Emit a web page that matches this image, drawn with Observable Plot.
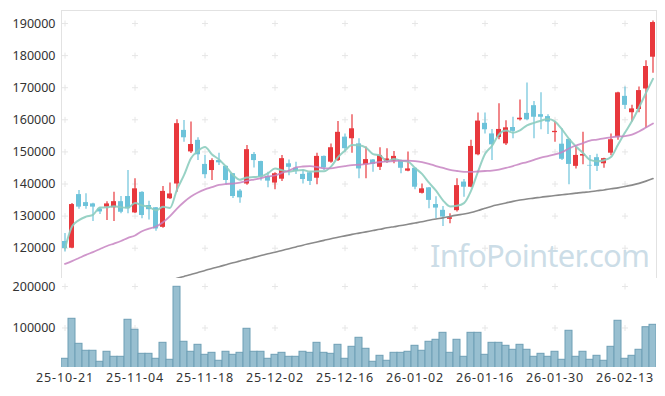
<!DOCTYPE html>
<html><head><meta charset="utf-8">
<script src="https://cdn.jsdelivr.net/npm/d3@7"></script>
<script src="https://cdn.jsdelivr.net/npm/@observablehq/plot@0.6"></script>
<style>
html,body{margin:0;padding:0;background:#fff;}
#wrap{position:relative;width:665px;height:396px;overflow:hidden;}
#wrap svg{display:block;}
#wm{position:absolute;left:425px;top:236px;pointer-events:none;overflow:visible;}
</style></head>
<body><div id="wrap"></div>
<script>
const dates = ["25-10-21","25-10-22","25-10-23","25-10-24","25-10-27","25-10-28","25-10-29","25-10-30","25-10-31","25-11-03",
"25-11-04","25-11-05","25-11-06","25-11-07","25-11-10","25-11-11","25-11-12","25-11-13","25-11-14","25-11-17",
"25-11-18","25-11-19","25-11-20","25-11-21","25-11-24","25-11-25","25-11-26","25-11-27","25-11-28","25-12-01",
"25-12-02","25-12-03","25-12-04","25-12-05","25-12-08","25-12-09","25-12-10","25-12-11","25-12-12","25-12-15",
"25-12-16","25-12-17","25-12-18","25-12-19","25-12-22","25-12-23","25-12-24","25-12-26","25-12-29","25-12-30",
"26-01-02","26-01-05","26-01-06","26-01-07","26-01-08","26-01-09","26-01-12","26-01-13","26-01-14","26-01-15",
"26-01-16","26-01-19","26-01-20","26-01-21","26-01-22","26-01-23","26-01-26","26-01-27","26-01-28","26-01-29",
"26-01-30","26-02-02","26-02-03","26-02-04","26-02-05","26-02-06","26-02-09","26-02-10","26-02-11","26-02-12",
"26-02-13","26-02-19","26-02-20","26-02-23","26-02-24"];

const open = [122100,120000,136700,134200,133800,132200,132800,132600,134500,136100,
131000,137400,133300,132600,126500,135400,140000,156700,150000,153600,
146100,144200,147300,145500,143200,137800,140000,149200,147000,142300,
140300,141500,146300,144900,143000,143500,141800,148600,146800,147300,
154600,154100,152500,146000,147500,145200,146800,147100,147300,144000,
144900,137100,138800,133600,131800,129000,131700,140600,139000,149100,
158900,155600,154500,152500,157600,160000,162000,164400,161600,161000,
156000,152400,153900,145500,148700,145800,148200,146300,149600,154600,
167300,162200,163200,169600,179500];
const high = [124600,133900,138000,137000,134000,132600,134500,137400,136100,144200,
141600,137600,134600,132700,139200,140300,160000,159800,159300,154400,
148900,147900,149600,145600,143300,138300,152000,149800,147100,143700,
143500,148900,147500,146800,144400,143600,149600,148700,152500,159500,
155600,161600,154100,151500,147600,151300,151000,150100,147400,150000,
145000,140000,138900,136000,133000,130700,141600,141400,153600,162100,
162100,157000,165000,159700,160800,166200,171500,165700,168400,161600,
159300,157200,154000,151500,156100,148900,149300,148000,155600,168600,
170200,164500,170200,178400,190800];
const low = [118800,119800,132100,132100,128300,130500,128600,128300,130700,130700,
130800,129200,128800,125300,126200,135200,137400,153000,149500,147300,
141600,141100,145800,139800,135500,134000,139600,145000,140900,138800,
138200,140800,142600,143000,140000,139500,139800,144200,146500,147000,
150000,149600,141600,141600,143700,144200,146500,146300,143200,143800,
138200,136900,132300,129200,126800,127600,131300,135900,138800,148800,
155600,147300,153800,152000,154100,159600,159700,154100,156900,155400,
153000,147300,139800,144700,146000,138200,143900,144900,148800,153600,
163200,159300,162200,157400,174500];
const close = [119900,133600,132800,133000,132800,131300,133800,134500,131200,132300,
138500,130200,132000,126000,137700,136900,158800,154400,152300,149100,
142900,147300,146600,141100,136100,135700,150700,147300,142100,140900,
143200,147900,145200,144000,141400,140800,148600,145000,151300,156100,
151000,157200,144700,147600,146100,148900,147800,148600,144900,144700,
139000,138500,134900,132500,129700,129500,139500,139000,151700,159600,
156900,152200,157000,157500,156400,160500,160000,160800,160800,159300,
156400,147700,146100,148900,149200,145600,145500,147900,153800,168400,
164500,163400,169100,176600,190300];
const volume = [25800,122200,61900,45100,45100,18600,42700,30600,30600,119800,
95700,37800,37800,25800,64300,23400,199300,66800,42700,59500,
35400,40200,21000,42700,35400,40200,98100,42700,42700,25800,
35400,40200,30600,30600,42700,40200,64300,40200,37800,59500,
25800,54700,76400,49900,18600,33000,21000,40200,40200,42700,
57100,45100,66800,71600,88400,40200,71600,30600,88400,88400,
35400,64300,64300,57100,47500,59500,47500,30600,37800,30600,
42700,23400,93300,30600,42700,23400,33000,21000,54700,117400,
25800,33000,47500,101900,107700];
const ma20 = [115100,116000,116950,117900,118800,119750,120700,121450,122250,123200,
123950,125300,126100,126750,128100,130000,132350,134400,136100,137350,
138300,139000,139700,140000,140150,140450,140950,141400,141850,142350,
142650,143450,144200,145150,145450,145550,145300,144850,144850,145250,
145600,145900,146000,146250,146550,146850,147000,147150,147300,147300,
147150,146850,146300,145600,145000,144400,144050,143800,143750,143900,
144050,144200,144500,145000,145600,146250,146850,147500,148250,148700,
149200,149950,151050,152000,152750,153550,153850,154250,154550,154800,
154950,155400,156350,157600,158850];
const ma60 = [null,null,null,null,null,null,null,null,null,null,
null,null,null,null,null,109950,110600,111200,111800,112450,
113050,113700,114250,114850,115450,116000,116600,117150,117700,118250,
118750,119300,119850,120400,120950,121450,121950,122450,122950,123400,
123850,124300,124700,125100,125500,125900,126350,126700,127050,127450,
127850,128250,128700,129100,129450,129900,130300,130650,131100,131750,
132450,133100,133600,134100,134600,135000,135350,135600,135900,136150,
136400,136650,136900,137150,137400,137600,137900,138150,138500,138800,
139200,139650,140200,140900,141700];

const priceTicks = [120000,130000,140000,150000,160000,170000,180000,190000];
const volumeTicks = [100000,200000];
const dateTicks = ["25-10-21","25-11-04","25-11-18","25-12-02","25-12-16","26-01-02","26-01-16","26-01-30","26-02-13"];

const UP = "#e8383d", DOWN = "#6dc3da";
const rows = dates.map((d, i) => ({date: d, open: open[i], high: high[i], low: low[i], close: close[i],
  volume: volume[i], ma20: ma20[i], ma60: ma60[i]}));
const gridPrice = dateTicks.flatMap(d => priceTicks.map(v => ({date: d, v})));
const gridVol = dateTicks.flatMap(d => volumeTicks.map(v => ({date: d, v})));
const colorOf = d => d.close >= d.open ? UP : DOWN;

const font = {fontFamily: "'Noto Sans', sans-serif", fontSize: "12.5px", color: "#333", background: "#fff"};

const price = Plot.plot({
  width: 665, height: 278,
  marginTop: 10, marginBottom: 0, marginLeft: 61, marginRight: 9,
  style: font,
  x: {type: "band", domain: dates, paddingInner: 2/7, paddingOuter: 1/7, align: 0.5, axis: null},
  y: {domain: [110565, 194050], ticks: priceTicks, tickFormat: d => String(d), tickSize: 0, tickPadding: 6, label: null},
  marks: [
    Plot.frame({stroke: "#e2e2e2"}),
    Plot.dot(gridPrice, {x: "date", y: "v", symbol: "plus", r: 2.1, stroke: "#e6e6e6", strokeWidth: 1}),
    Plot.ruleX(rows, {x: "date", y1: "low", y2: "high", stroke: colorOf, strokeWidth: 1.2, clip: true}),
    Plot.barY(rows, {x: "date", y1: "open", y2: "close", fill: colorOf, clip: true}),
    Plot.line(rows, Plot.windowY({k: 5, anchor: "end"}, {x: "date", y: "close", stroke: "#8dcdbf", strokeWidth: 2, strokeOpacity: 0.9, curve: "monotone-x", clip: true})),
    Plot.line(rows, {x: "date", y: "ma20", stroke: "#c784c2", strokeWidth: 1.8, strokeOpacity: 0.85, curve: "monotone-x", clip: true}),
    Plot.line(rows.filter(d => d.ma60 != null), {x: "date", y: "ma60", stroke: "#8a8a8a", strokeWidth: 1.6, curve: "monotone-x", clip: true})
  ]
});

const vol = Plot.plot({
  width: 665, height: 118,
  marginTop: 0, marginBottom: 29, marginLeft: 61, marginRight: 9,
  style: font,
  x: {type: "band", domain: dates, padding: 0, ticks: dateTicks, tickSize: 0, tickPadding: 6, label: null},
  y: {domain: [4800, 219300], ticks: volumeTicks, tickFormat: d => String(d), tickSize: 0, tickPadding: 6, label: null},
  marks: [
    Plot.dot(gridVol, {x: "date", y: "v", symbol: "plus", r: 2.1, stroke: "#e6e6e6", strokeWidth: 1}),
    Plot.barY(rows, {x: "date", y: "volume", fill: "#98bfd0", stroke: "#6f9fb5", strokeWidth: 1, clip: true})
  ]
});

const wrap = document.getElementById("wrap");
wrap.appendChild(price);
wrap.appendChild(vol);

// widen date labels slightly (reference uses a wider face)
d3.select(vol).selectAll("text").filter(function() { return /^\d\d-\d\d-\d\d$/.test(this.textContent); })
  .style("letter-spacing", "0.9px");

// watermark
const wm = d3.select(wrap).append("svg").attr("id", "wm").attr("width", 235).attr("height", 42);
wm.append("text").attr("x", 5).attr("y", 31)
  .attr("font-family", "'Noto Sans', sans-serif").attr("font-size", 31)
  .style("letter-spacing", "-0.8px")
  .attr("fill", "#c3d7e3").attr("fill-opacity", 0.85)
  .text("InfoPointer.com");
</script>
</body></html>
